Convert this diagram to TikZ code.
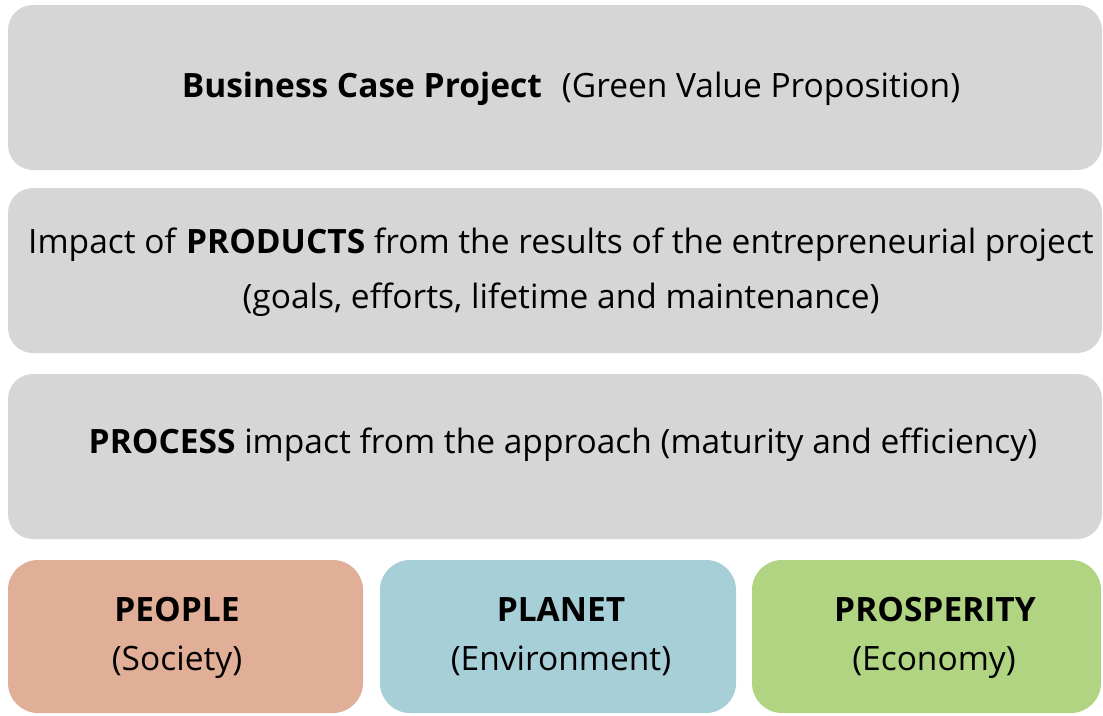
\documentclass[tikz,border=0pt]{standalone}
\usepackage{fontspec}
\setmainfont{Open Sans}
\definecolor{boxgray}{HTML}{D6D6D6}
\definecolor{peoplec}{HTML}{E1AF97}
\definecolor{planetc}{HTML}{A6CFD8}
\definecolor{prospc}{HTML}{B0D481}
\tikzset{
  graybox/.style={fill=boxgray, draw=none, rounded corners=25pt, minimum width=1094pt, minimum height=165pt, inner sep=0pt},
  colbox/.style={draw=none, rounded corners=30pt, minimum height=153pt, inner sep=0pt},
  txt/.style={anchor=base, inner sep=0pt, font=\fontsize{33.5}{40}\selectfont, text=black}
}
\begin{document}
\begin{tikzpicture}[x=1pt, y=-1pt]
\useasboundingbox (0,0) rectangle (1103,715);
\fill[white] (0,0) rectangle (1103,715);
\node[graybox] (b1) at (555,87.5) {};
\node[graybox] (b2) at (555,270.5) {};
\node[graybox] (b3) at (555,456.5) {};
\node[colbox, fill=peoplec, minimum width=355pt] (pe) at (185.5,636.5) {};
\node[colbox, fill=planetc, minimum width=356pt] (pl) at (558,636.5) {};
\node[colbox, fill=prospc, minimum width=349pt] (pr) at (926.5,636.5) {};
\node[txt] (t1) at (571,97) {\textbf{Business Case Project}\hspace{0.6em}(Green Value Proposition)};
\node[txt] (t2) at (561,253) {Impact of \textbf{PRODUCTS} from the results of the entrepreneurial project};
\node[txt] (t3) at (561,308) {(goals, efforts, lifetime and maintenance)};
\node[txt] (t4) at (563,453) {\textbf{PROCESS} impact from the approach (maturity and efficiency)};
\node[txt] (t5) at (177,621) {\textbf{PEOPLE}};
\node[txt] (t6) at (177,670) {(Society)};
\node[txt] (t7) at (561,621) {\textbf{PLANET}};
\node[txt] (t8) at (561,670) {(Environment)};
\node[txt] (t9) at (935,621) {\textbf{PROSPERITY}};
\node[txt] (t10) at (934,670) {(Economy)};
\end{tikzpicture}
\end{document}
